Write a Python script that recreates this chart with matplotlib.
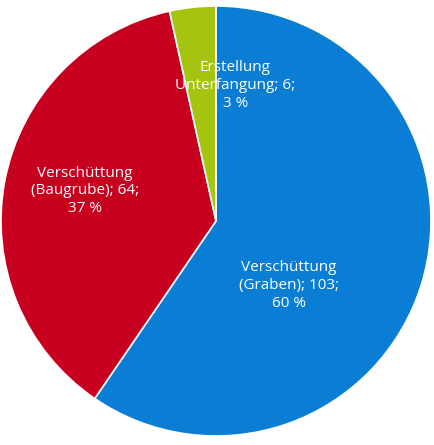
import matplotlib
matplotlib.use("Agg")
import matplotlib.pyplot as plt

labels = ["Verschüttung\n(Graben); 103;\n60 %", "Verschüttung\n(Baugrube); 64;\n37 %", "Erstellung\nUnterfangung; 6;\n3 %"]
values = [103, 64, 6]
colors = ["#0a7dd5", "#c8001f", "#a5c40f"]
# label centres in pie radius units
label_xy = [(0.34, -0.30), (-0.61, 0.14), (0.09, 0.63)]

fig = plt.figure(figsize=(4.34, 4.45), dpi=100)
ax = fig.add_axes([0, 0, 1, 1])
ax.pie(values, colors=colors, startangle=90, counterclock=False, radius=1,
       wedgeprops=dict(edgecolor="white", linewidth=1.2))
for lab, (x, y) in zip(labels, label_xy):
    ax.text(x, y, lab, ha="center", va="center", color="white",
            fontsize=11, family="Open Sans", linespacing=1.25)
ax.set_xlim(-216 / 215, 218 / 215)
ax.set_ylim(-224 / 215, 221 / 215)
ax.set_aspect("auto")
ax.axis("off")
fig.savefig("out.png", dpi=100)
